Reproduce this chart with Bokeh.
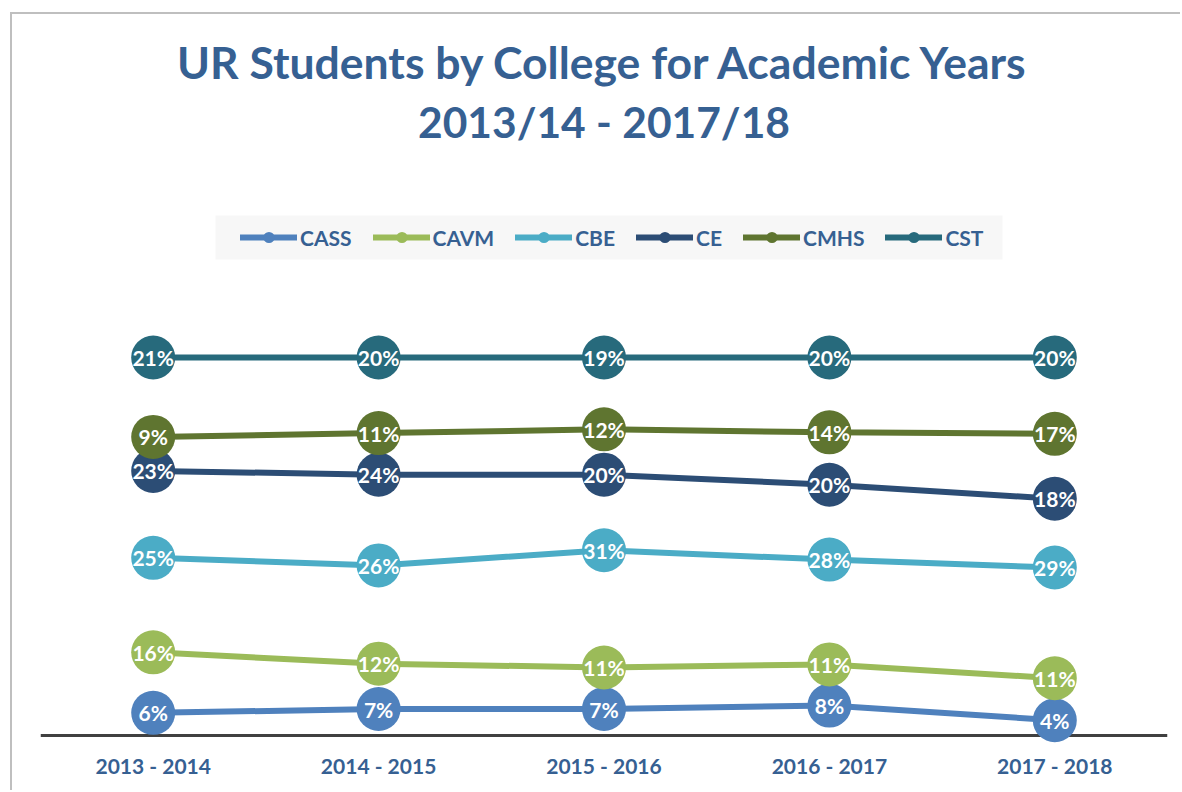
import numpy as np
from bokeh.plotting import figure
from bokeh.models import (FactorRange, Range1d, Title, Legend, LegendItem, Span,
                          ColumnDataSource, BoxAnnotation)
from bokeh.embed import file_html
from bokeh.resources import INLINE
from bokeh.core.properties import value

years = ["2013 - 2014", "2014 - 2015", "2015 - 2016", "2016 - 2017", "2017 - 2018"]
colleges = ["CASS", "CAVM", "CBE", "CE", "CMHS", "CST"]
cass = [6, 7, 7, 8, 4]
cavm = [16, 12, 11, 11, 11]
cbe = [25, 26, 31, 28, 29]
ce = [23, 24, 20, 20, 18]
cmhs = [9, 11, 12, 14, 17]
cst = [21, 20, 19, 20, 20]
series = [cass, cavm, cbe, ce, cmhs, cst]
colors = ["#4F81BD", "#9BBB59", "#4BACC6", "#2C4D75", "#5F7530", "#276A7C"]

FONT = "Lato"
BLUE = "#366092"

p = figure(width=1170, height=778, x_range=FactorRange(*years), y_range=Range1d(-2.91, 155.03),
           output_backend="svg", toolbar_location=None, y_axis_location=None,
           min_border_left=28, min_border_right=15, min_border_top=135, min_border_bottom=46)
p.styles = {"margin-left": "10px", "margin-top": "12px",
            "border-top": "2px solid #BFBFBF", "border-left": "2px solid #BFBFBF",
            "border-right": "none", "border-bottom": "none",
            "outline": "none", "box-shadow": "none"}
p.outline_line_color = None
p.xgrid.grid_line_color = None
p.ygrid.grid_line_color = None
p.background_fill_color = "white"
p.border_fill_color = "white"

p.xaxis.axis_line_color = None
p.xaxis.major_tick_line_color = None
p.xaxis.minor_tick_line_color = None
p.xaxis.major_tick_out = 0
p.xaxis.major_tick_in = 0
p.xaxis.major_label_standoff = 6
p.xaxis.major_label_text_font = FONT
p.xaxis.major_label_text_font_style = "bold"
p.xaxis.major_label_text_font_size = "21px"
p.xaxis.major_label_text_color = BLUE

p.add_layout(Span(location=0, dimension="width", line_color="#404040", line_width=3, level="underlay"))

# light grey band behind the legend
p.add_layout(BoxAnnotation(left=175, right=962, bottom=487, top=531,
                           left_units="screen", right_units="screen",
                           top_units="screen", bottom_units="screen",
                           fill_color="#F7F7F7", fill_alpha=1, line_color=None, level="underlay"))

t2 = Title(text="2013/14 - 2017/18", align="center", text_font=FONT, text_font_style="bold",
           text_font_size="42.5px", text_color=BLUE, standoff=6)
t1 = Title(text="UR Students by College for Academic Years", align="center", text_font=FONT,
           text_font_style="bold", text_font_size="44.5px", text_color=BLUE, standoff=6)
p.add_layout(t2, "above")
p.add_layout(t1, "above")

# stack to 100% like the original chart
arr = np.array(series, dtype=float)
cum = np.cumsum(arr, axis=0) / arr.sum(axis=0) * 100

items = []
for name, vals, c, col in zip(colleges, series, cum, colors):
    src = ColumnDataSource(dict(x=years, y=c, lab=[f"{v}%" for v in vals]))
    lr = p.line("x", "y", source=src, line_color=col, line_width=6, line_cap="round")
    sr = p.scatter("x", "y", source=src, size=44, fill_color=col, line_color=col, line_width=0)
    p.text("x", "y", text="lab", source=src, text_align="center", text_baseline="middle",
           text_color="white", text_font=value(FONT), text_font_style="bold", text_font_size="21px")
    items.append(LegendItem(label=name, renderers=[lr, sr]))

legend = Legend(items=items, orientation="horizontal", location=(200, 495), padding=0,
                spacing=21, glyph_width=57, glyph_height=28, label_standoff=3, label_text_font=FONT,
                label_text_font_style="bold", label_text_font_size="21px", label_text_color=BLUE,
                background_fill_alpha=0, border_line_color=None)
p.add_layout(legend)

open("out.html", "w").write(file_html(p, INLINE))
